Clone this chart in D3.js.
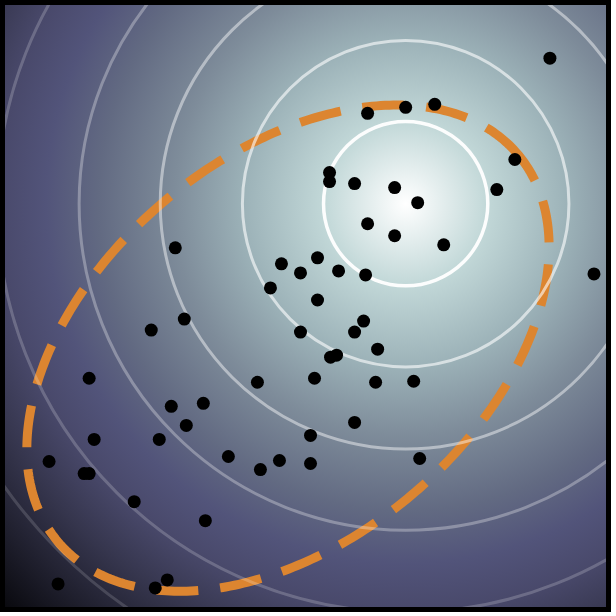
<!DOCTYPE html>
<html>
<head>
<meta charset="utf-8">
<script src="https://cdn.jsdelivr.net/npm/d3@7"></script>
<style>
  body { margin: 0; background: #fff; }
  svg { display: block; }
</style>
</head>
<body>
<div id="chart"></div>
<script>
// Scatter points (data units)
const pointsX = [2.44, 0.62, 1.00, 1.29, 2.09, 0.24, 0.24, 0.49, 0.89, 1.12,
                 1.91, 0.62, 0.89, 1.38, -1.30, 0.12, -0.24, -0.05, 0.33, 0.60,
                 2.88, -0.35, 0.12, -1.21, -1.54, 0.58, -0.05, 0.49, 0.72, 0.31,
                 0.25, 0.09, 0.70, 1.08, -0.48, -2.16, -1.34, -1.02, -1.19, 0.49,
                 -2.11, -1.46, 0.05, -2.56, -0.77, -0.26, -0.45, 0.05, 1.14, -2.21,
                 -2.16, -1.71, -1.00, -2.47, -1.50, -1.38];
const pointsY = [2.47, 1.92, 1.98, 2.01, 1.46, 1.33, 1.24, 1.22, 1.18, 1.03,
                 1.16, 0.82, 0.70, 0.61, 0.58, 0.48, 0.42, 0.33, 0.35, 0.31,
                 0.32, 0.18, 0.06, -0.13, -0.24, -0.15, -0.26, -0.26, -0.43, -0.49,
                 -0.51, -0.72, -0.76, -0.75, -0.76, -0.72, -1.00, -0.97, -1.19, -1.16,
                 -1.33, -1.33, -1.29, -1.55, -1.50, -1.54, -1.63, -1.57, -1.52, -1.67,
                 -1.67, -1.95, -2.14, -2.77, -2.81, -2.73];

// Concentric rings around the peak
const ringCenter = [1.0, 1.02];
const ringRadii = [0.82, 1.63, 2.45, 3.26, 4.08, 4.90, 5.71];
const ringOpacity = [0.95, 0.6, 0.45, 0.3, 0.2, 0.15, 0.1];

// Fitted ellipse (center, semi-axes, angle in degrees)
const ellipseCenter = [-0.175, -0.42];
const ellipseAxes = [3.0, 1.915];
const ellipseAngle = 40;

const width = 616, height = 616;
const plotLeft = 5, plotRight = 606, plotTop = 5, plotBottom = 607;

const x = d3.scaleLinear().domain([-3, 3]).range([plotLeft, plotRight]);
const y = d3.scaleLinear().domain([-3, 3]).range([plotBottom, plotTop]);

const svg = d3.select("#chart")
    .append("svg")
    .attr("width", width)
    .attr("height", height);

const defs = svg.append("defs");

// ─── BACKGROUND GRADIENT ─────────────────────────
const grad = defs.append("radialGradient")
    .attr("id", "bg")
    .attr("gradientUnits", "userSpaceOnUse")
    .attr("cx", x(ringCenter[0]))
    .attr("cy", y(ringCenter[1]))
    .attr("r", 580);

[[0, "#ffffff"], [0.14, "#c2d8d8"], [0.28, "#9cb2b8"], [0.40, "#7e8c9a"],
 [0.53, "#626a82"], [0.62, "#52547a"], [0.70, "#49496b"], [0.79, "#36364e"],
 [1, "#050508"]]
  .forEach(([o, c]) => grad.append("stop").attr("offset", o).attr("stop-color", c));

defs.append("clipPath").attr("id", "plot")
  .append("rect")
    .attr("x", plotLeft).attr("y", plotTop)
    .attr("width", plotRight - plotLeft).attr("height", plotBottom - plotTop);

const plot = svg.append("g").attr("clip-path", "url(#plot)");

plot.append("rect")
    .attr("x", plotLeft).attr("y", plotTop)
    .attr("width", plotRight - plotLeft).attr("height", plotBottom - plotTop)
    .attr("fill", "url(#bg)");

// ─── ELLIPSE ─────────────────────────────────────
const rad = ellipseAngle * Math.PI / 180;
const ellipsePts = d3.range(0, 361).map(i => {
    const t = i * Math.PI / 180;
    const ex = ellipseAxes[0] * Math.cos(t), ey = ellipseAxes[1] * Math.sin(t);
    return [ellipseCenter[0] + ex * Math.cos(rad) - ey * Math.sin(rad),
            ellipseCenter[1] + ex * Math.sin(rad) + ey * Math.cos(rad)];
});

plot.append("path")
    .datum(ellipsePts)
    .attr("d", d3.line().x(d => x(d[0])).y(d => y(d[1])))
    .attr("fill", "none")
    .attr("stroke", "#dc8530")
    .attr("stroke-width", 9)
    .attr("stroke-dasharray", "42,22");

// ─── RINGS ───────────────────────────────────────
plot.selectAll("circle.ring")
    .data(ringRadii)
    .enter().append("circle")
    .attr("class", "ring")
    .attr("cx", x(ringCenter[0]))
    .attr("cy", y(ringCenter[1]))
    .attr("r", d => x(ringCenter[0] + d) - x(ringCenter[0]))
    .attr("fill", "none")
    .attr("stroke", "#ffffff")
    .attr("stroke-width", (d, i) => i === 0 ? 3.5 : 3)
    .attr("stroke-opacity", (d, i) => ringOpacity[i]);

// ─── POINTS ──────────────────────────────────────
plot.selectAll("circle.pt")
    .data(pointsX)
    .enter().append("circle")
    .attr("class", "pt")
    .attr("cx", d => x(d))
    .attr("cy", (d, i) => y(pointsY[i]))
    .attr("r", 6.5)
    .attr("fill", "#000");

// frame
svg.append("rect")
    .attr("x", 2.5).attr("y", 2.5)
    .attr("width", 606).attr("height", 607)
    .attr("fill", "none")
    .attr("stroke", "#000")
    .attr("stroke-width", 5);
</script>
</body>
</html>
